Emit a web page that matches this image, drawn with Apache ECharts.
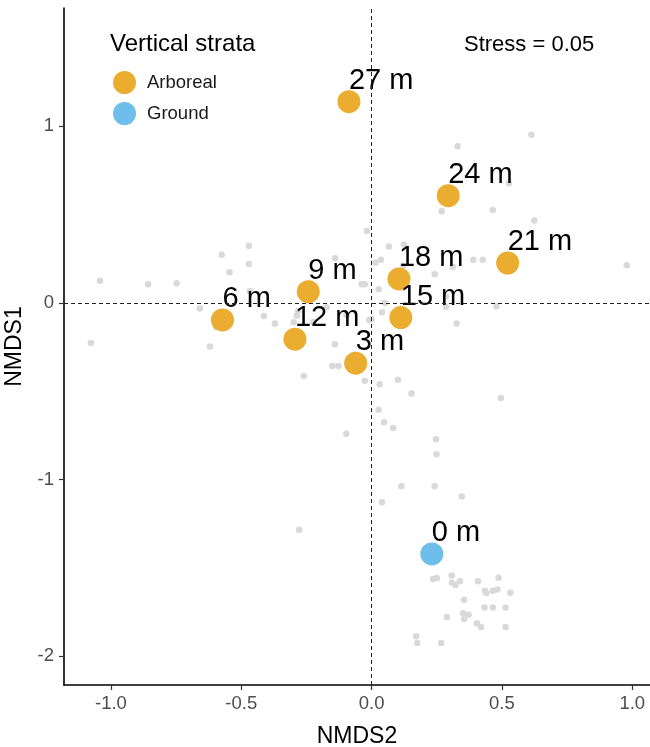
<!DOCTYPE html>
<html>
<head>
<meta charset="utf-8">
<script src="https://cdn.jsdelivr.net/npm/echarts@6/dist/echarts.min.js"></script>
<style>
  html, body { margin: 0; padding: 0; background: #fff; }
  #main { width: 650px; height: 747px; }
</style>
</head>
<body>
<div id="main"></div>
<script>
// site scores (NMDS2 on x, NMDS1 on y)
var siteNames  = ['0 m', '3 m', '6 m', '9 m', '12 m', '15 m', '18 m', '21 m', '24 m', '27 m'];
var siteStrata = ['Ground', 'Arboreal', 'Arboreal', 'Arboreal', 'Arboreal', 'Arboreal', 'Arboreal', 'Arboreal', 'Arboreal', 'Arboreal'];
var siteX = [0.231, -0.061, -0.572, -0.243, -0.294, 0.112, 0.105, 0.522, 0.294, -0.087];
var siteY = [-1.42, -0.341, -0.096, 0.064, -0.205, -0.083, 0.136, 0.226, 0.607, 1.139];

// species scores (grey background points)
var speciesX = [0.613, 0.330, 0.527, 0.269, 0.465, 0.624, -0.018, 0.066, 0.124, 0.036,
  0.015, 0.390, 0.426, 0.979, 0.121, 0.242, 0.311, -0.038, -0.026, 0.027,
  0.285, -0.471, -0.575, -0.471, -0.545, -1.042, -0.857, -0.748, -0.467, -0.140,
  -0.659, -0.604, -0.596, -0.413, -0.371, -0.287, -0.299, -0.224, -0.173, -1.077,
  -0.620, -0.312, -0.141, -0.150, -0.127, -0.260, 0.051, 0.040, 0.285, 0.479,
  0.326, -0.009, -0.026, 0.031, 0.101, 0.153, 0.496, 0.027, -0.097, 0.048,
  0.083, 0.247, 0.249, 0.114, 0.242, 0.346, 0.040, -0.278, 0.236, 0.250,
  0.307, 0.308, 0.321, 0.339, 0.408, 0.487, 0.435, 0.440, 0.465, 0.483,
  0.532, 0.355, 0.433, 0.465, 0.514, 0.351, 0.372, 0.355, 0.289, 0.404,
  0.420, 0.514, 0.171, 0.175, 0.267, -0.282, 0.000, -0.096];
var speciesY = [0.952, 0.887, 0.677, 0.519, 0.526, 0.466, 0.407, 0.319, 0.331, 0.245,
  0.229, 0.245, 0.245, 0.213, 0.211, 0.162, 0.205, 0.106, 0.106, 0.078,
  0.036, 0.324, 0.272, 0.221, 0.174, 0.125, 0.106, 0.111, 0.066, 0.253,
  -0.032, -0.087, -0.138, -0.074, -0.117, -0.072, -0.109, -0.108, -0.024, -0.226,
  -0.247, -0.239, -0.234, -0.357, -0.357, -0.413, 0.000, -0.053, -0.021, -0.019,
  -0.117, -0.096, -0.441, -0.460, -0.434, -0.513, -0.538, -0.604, -0.740, -0.675,
  -0.707, -0.771, -0.856, -1.037, -1.037, -1.096, -1.128, -1.283, -1.562, -1.556,
  -1.543, -1.583, -1.596, -1.575, -1.575, -1.555, -1.628, -1.641, -1.628, -1.622,
  -1.640, -1.679, -1.724, -1.724, -1.724, -1.756, -1.764, -1.788, -1.777, -1.813,
  -1.834, -1.834, -1.886, -1.924, -1.924, -0.045, -0.093, -0.068];

var xTicks = [-1, -0.5, 0, 0.5, 1];
var yTicks = [-2, -1, 0, 1];
var stressText = 'Stress = 0.05';

var strataColors = { Arboreal: '#EBAD2F', Ground: '#6DBEEA' };
var FONT = 'Liberation Sans, Arial, sans-serif';

function siteSeries(stratum) {
  var pts = [];
  for (var i = 0; i < siteNames.length; i++) {
    if (siteStrata[i] === stratum) pts.push({ name: siteNames[i], value: [siteX[i], siteY[i]] });
  }
  return {
    name: stratum,
    type: 'scatter',
    data: pts,
    symbolSize: 23,
    itemStyle: { color: strataColors[stratum], opacity: 1 },
    z: 3,
    label: {
      show: true,
      position: 'inside',
      align: 'left',
      verticalAlign: 'middle',
      offset: [0, -21],
      formatter: '{b}',
      fontSize: 29,
      fontFamily: FONT,
      color: '#000'
    }
  };
}

var speciesPts = speciesX.map(function (x, i) { return [x, speciesY[i]]; });

var chart = echarts.init(document.getElementById('main'));
chart.setOption({
  animation: false,
  backgroundColor: '#fff',
  title: [
    { text: 'Vertical strata', left: 105, top: 27,
      textStyle: { fontSize: 24, fontWeight: 'normal', fontFamily: FONT, color: '#000' } },
    { text: stressText, left: 459, top: 29,
      textStyle: { fontSize: 22, fontWeight: 'normal', fontFamily: FONT, color: '#000' } }
  ],
  legend: {
    data: ['Arboreal', 'Ground'],
    orient: 'vertical',
    left: 108,
    top: 66,
    icon: 'circle',
    itemWidth: 23,
    itemHeight: 23,
    itemGap: 8,
    textStyle: { fontSize: 18.5, fontFamily: FONT, color: '#1a1a1a', padding: [0, 0, 0, 6] }
  },
  grid: { left: 64, right: 0, top: 8, bottom: 62, containLabel: false, outerBoundsMode: 'none' },
  xAxis: {
    type: 'value',
    min: -1.18, max: 1.068,
    name: 'NMDS2',
    nameLocation: 'middle',
    nameGap: 40,
    nameTextStyle: { fontSize: 23, fontFamily: FONT, color: '#000' },
    splitLine: { show: false },
    axisLine: { onZero: false, lineStyle: { color: '#000', width: 1.6 } },
    axisTick: { show: true, length: 5, customValues: xTicks, lineStyle: { color: '#333', width: 1.2 } },
    axisLabel: { customValues: xTicks, margin: 9, fontSize: 18.5, fontFamily: FONT, color: '#4d4d4d',
      formatter: function (v) { return v.toFixed(1); } }
  },
  yAxis: {
    type: 'value',
    min: -2.162, max: 1.669,
    name: 'NMDS1',
    nameLocation: 'middle',
    nameRotate: 90,
    nameGap: 38,
    nameTextStyle: { fontSize: 23, fontFamily: FONT, color: '#000' },
    splitLine: { show: false },
    axisLine: { onZero: false, lineStyle: { color: '#000', width: 1.6 } },
    axisTick: { show: true, length: 5, customValues: yTicks, lineStyle: { color: '#333', width: 1.2 } },
    axisLabel: { customValues: yTicks, margin: 10, fontSize: 18.5, fontFamily: FONT, color: '#4d4d4d' }
  },
  series: [
    {
      name: 'species',
      type: 'scatter',
      data: speciesPts,
      symbolSize: 6.5,
      itemStyle: { color: '#d9d9d9', opacity: 1 },
      z: 2,
      markLine: {
        silent: true,
        symbol: 'none',
        label: { show: false },
        lineStyle: { color: '#222', width: 1, type: [4, 3] },
        data: [{ xAxis: 0 }, { yAxis: 0 }]
      }
    },
    siteSeries('Arboreal'),
    siteSeries('Ground')
  ]
});
</script>
</body>
</html>
